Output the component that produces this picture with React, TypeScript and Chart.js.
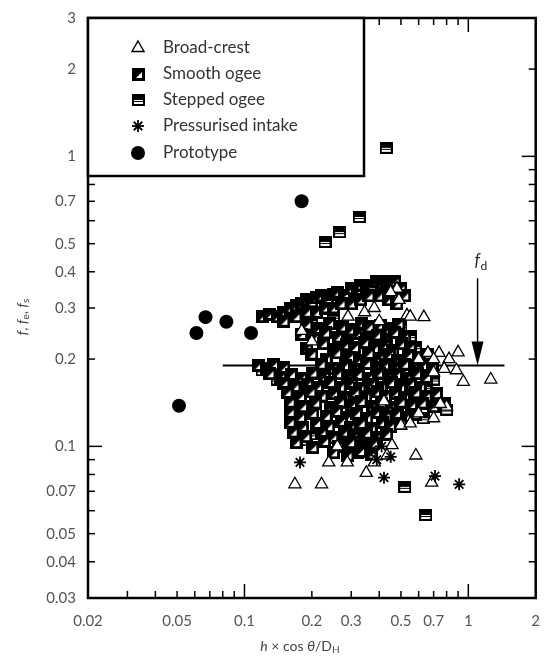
import React, { useEffect, useRef } from 'react';
import { Chart, registerables } from 'chart.js';
Chart.register(...registerables);

const X_MIN = 0.02, X_MAX = 2, Y_MIN = 0.03, Y_MAX = 3;
const xTickValues = [0.02, 0.05, 0.1, 0.2, 0.3, 0.5, 0.7, 1, 2];
const xTickLabels = ['0.02', '0.05', '0.1', '0.2', '0.3', '0.5', '0.7', '1', '2'];
const yTickValues = [0.03, 0.04, 0.05, 0.07, 0.1, 0.2, 0.3, 0.4, 0.5, 0.7, 1, 2, 3];
const yTickLabels = ['0.03', '0.04', '0.05', '0.07', '0.1', '0.2', '0.3', '0.4', '0.5', '0.7', '1', '2', '3'];
const xTickMarks = [0.03, 0.04, 0.05, 0.06, 0.07, 0.08, 0.09, 0.1, 0.2, 0.3, 0.4, 0.5, 0.6, 0.7, 0.8, 0.9, 1];
const yTickMarks = [0.04, 0.05, 0.06, 0.07, 0.08, 0.09, 0.1, 0.2, 0.3, 0.4, 0.5, 0.6, 0.7, 0.8, 0.9, 1, 2];
const decadeTicks = [0.1, 1];
const seriesNames = ['Broad-crest', 'Smooth ogee', 'Stepped ogee', 'Pressurised intake', 'Prototype'];

const fdValue = 0.19;
const fdLineX = [0.08, 1.45];
const fdArrowX = 1.1;
const fdArrowTop = 0.38;

const prototype: [number, number][] = [
  [0.051, 0.138], [0.061, 0.246], [0.067, 0.279], [0.083, 0.269], [0.107, 0.246], [0.18, 0.70],
];

const pressurised: [number, number][] = [
  [0.177, 0.088], [0.42, 0.078], [0.71, 0.079], [0.91, 0.074], [0.33, 0.105], [0.37, 0.097],
  [0.41, 0.1], [0.31, 0.113], [0.45, 0.092], [0.39, 0.09],
];

const broadCrest: [number, number][] = [
  [0.168, 0.074], [0.221, 0.074], [0.238, 0.088], [0.288, 0.088], [0.35, 0.081], [0.38, 0.088],
  [0.456, 0.101], [0.433, 0.093], [0.583, 0.093], [0.686, 0.075], [0.5, 0.118], [0.8, 0.137],
  [0.42, 0.143], [0.633, 0.279], [0.532, 0.283], [0.9, 0.211], [0.885, 0.183], [0.95, 0.167],
  [1.26, 0.17], [0.74, 0.21], [0.66, 0.21], [0.82, 0.2], [0.344, 0.29], [0.4, 0.27],
  [0.49, 0.32], [0.48, 0.35], [0.18, 0.25], [0.2, 0.23], [0.29, 0.28], [0.38, 0.3],
  [0.45, 0.34], [0.55, 0.28], [0.6, 0.2], [0.7, 0.2], [0.7, 0.18], [0.6, 0.13],
  [0.7, 0.125], [0.75, 0.14], [0.26, 0.1], [0.55, 0.12], [0.78, 0.185],
];

const smoothOgee: [number, number][] = [
  [0.12, 0.28], [0.13, 0.285], [0.14, 0.28], [0.15, 0.29], [0.16, 0.3], [0.17, 0.305], [0.18, 0.31],
  [0.19, 0.32], [0.2, 0.315], [0.21, 0.325], [0.22, 0.33], [0.235, 0.32], [0.25, 0.335], [0.26, 0.34],
  [0.28, 0.33], [0.3, 0.35], [0.32, 0.34], [0.33, 0.36], [0.35, 0.35], [0.37, 0.36], [0.39, 0.37],
  [0.41, 0.365], [0.43, 0.37], [0.45, 0.36], [0.47, 0.37], [0.5, 0.35], [0.52, 0.33],
  [0.15, 0.27], [0.17, 0.28], [0.19, 0.29], [0.21, 0.29], [0.23, 0.3], [0.25, 0.3], [0.27, 0.31],
  [0.3, 0.31], [0.33, 0.32], [0.36, 0.33], [0.4, 0.33], [0.44, 0.32], [0.48, 0.31],
  [0.19, 0.262], [0.215, 0.255], [0.24, 0.265], [0.275, 0.258], [0.3, 0.252], [0.335, 0.266],
  [0.36, 0.258], [0.405, 0.262], [0.44, 0.254], [0.49, 0.264],
  [0.18, 0.243], [0.205, 0.236], [0.23, 0.246], [0.262, 0.238], [0.29, 0.232], [0.325, 0.245],
  [0.35, 0.236], [0.392, 0.242], [0.43, 0.234], [0.47, 0.247], [0.52, 0.238],
  [0.19, 0.218], [0.225, 0.226], [0.25, 0.215], [0.285, 0.224], [0.31, 0.219], [0.345, 0.228],
  [0.38, 0.217], [0.425, 0.223], [0.46, 0.214], [0.505, 0.226], [0.55, 0.219],
  [0.2, 0.208], [0.232, 0.2], [0.258, 0.21], [0.295, 0.203], [0.325, 0.198], [0.36, 0.209],
  [0.4, 0.201], [0.445, 0.207], [0.485, 0.198], [0.54, 0.206], [0.6, 0.2], [0.66, 0.208],
  [0.115, 0.19], [0.125, 0.186], [0.135, 0.191], [0.15, 0.187], [0.22, 0.192], [0.248, 0.186],
  [0.282, 0.19], [0.31, 0.184], [0.352, 0.193], [0.39, 0.187], [0.428, 0.191], [0.47, 0.185],
  [0.52, 0.192], [0.572, 0.186], [0.63, 0.19], [0.69, 0.187],
  [0.13, 0.178], [0.145, 0.173], [0.162, 0.177], [0.18, 0.172], [0.202, 0.179], [0.228, 0.174],
  [0.262, 0.178], [0.288, 0.171], [0.322, 0.177], [0.358, 0.172], [0.402, 0.179], [0.438, 0.173],
  [0.482, 0.177], [0.528, 0.171], [0.59, 0.178], [0.65, 0.173],
  [0.15, 0.165], [0.168, 0.16], [0.192, 0.164], [0.212, 0.159], [0.242, 0.166], [0.268, 0.16],
  [0.302, 0.165], [0.328, 0.158], [0.372, 0.164], [0.408, 0.16], [0.452, 0.166], [0.498, 0.159],
  [0.552, 0.164], [0.61, 0.16],
  [0.155, 0.153], [0.178, 0.148], [0.198, 0.154], [0.222, 0.149], [0.252, 0.152], [0.278, 0.147],
  [0.312, 0.153], [0.348, 0.148], [0.392, 0.154], [0.428, 0.149], [0.472, 0.152], [0.518, 0.147],
  [0.582, 0.153], [0.648, 0.149], [0.72, 0.152],
  [0.16, 0.142], [0.182, 0.137], [0.208, 0.141], [0.242, 0.136], [0.268, 0.142], [0.302, 0.138],
  [0.332, 0.143], [0.372, 0.137], [0.408, 0.141], [0.452, 0.136], [0.5, 0.142], [0.558, 0.138],
  [0.622, 0.141], [0.7, 0.137], [0.78, 0.14],
  [0.16, 0.131], [0.178, 0.126], [0.202, 0.13], [0.232, 0.127], [0.258, 0.132], [0.292, 0.126],
  [0.318, 0.13], [0.352, 0.125], [0.392, 0.131], [0.428, 0.127], [0.482, 0.13], [0.528, 0.126],
  [0.58, 0.129],
  [0.16, 0.121], [0.182, 0.116], [0.21, 0.12], [0.238, 0.117], [0.272, 0.122], [0.298, 0.116],
  [0.332, 0.12], [0.368, 0.115], [0.412, 0.121], [0.448, 0.117], [0.5, 0.12],
  [0.165, 0.112], [0.188, 0.108], [0.222, 0.111], [0.248, 0.107], [0.282, 0.112], [0.308, 0.108],
  [0.352, 0.111], [0.388, 0.107], [0.432, 0.11],
  [0.17, 0.103], [0.202, 0.099], [0.228, 0.104], [0.262, 0.1], [0.298, 0.103], [0.342, 0.099],
  [0.378, 0.102],
  [0.25, 0.095], [0.29, 0.093], [0.33, 0.096], [0.37, 0.094],
];

const steppedOgee: [number, number][] = [
  [0.43, 1.07], [0.326, 0.618], [0.266, 0.548], [0.229, 0.507], [0.52, 0.0725], [0.645, 0.058],
  [0.115, 0.19], [0.12, 0.183], [0.13, 0.178], [0.14, 0.17], [0.15, 0.165], [0.165, 0.16],
  [0.17, 0.15], [0.175, 0.14], [0.17, 0.13], [0.17, 0.12], [0.175, 0.11], [0.19, 0.105],
  [0.21, 0.11], [0.28, 0.11], [0.3, 0.1], [0.32, 0.095], [0.35, 0.1], [0.38, 0.105],
  [0.6, 0.155], [0.65, 0.16], [0.7, 0.17], [0.55, 0.185], [0.6, 0.19], [0.25, 0.28],
  [0.2, 0.27], [0.5, 0.26], [0.55, 0.24], [0.58, 0.22], [0.62, 0.145], [0.66, 0.14],
  [0.8, 0.134], [0.63, 0.125],
];

const FONT = 'Lato, "Open Sans", sans-serif';

function makeSmoothIcon(): HTMLCanvasElement {
  const s = 13;
  const c = document.createElement('canvas');
  c.width = s; c.height = s;
  const g = c.getContext('2d')!;
  g.fillStyle = '#000';
  g.fillRect(0, 0, s, s);
  g.fillStyle = '#fff';
  g.beginPath();
  g.moveTo(s - 3, 4);
  g.lineTo(s - 3, s - 3);
  g.lineTo(4, s - 3);
  g.closePath();
  g.fill();
  return c;
}

function makeSteppedIcon(): HTMLCanvasElement {
  const w = 13, h = 12;
  const c = document.createElement('canvas');
  c.width = w; c.height = h;
  const g = c.getContext('2d')!;
  g.fillStyle = '#fff';
  g.fillRect(0, 0, w, h);
  g.fillStyle = '#000';
  g.fillRect(0, 0, w, 6);
  g.fillRect(0, 7, w, 1);
  g.fillRect(0, 0, 2, h);
  g.fillRect(w - 2, 0, 2, h);
  g.fillRect(0, h - 2, w, 2);
  return c;
}

const toPts = (arr: [number, number][]) => arr.map(([x, y]) => ({ x, y }));

export default function App() {
  const ref = useRef<HTMLCanvasElement>(null);
  useEffect(() => {
    document.body.style.margin = '0';
    const smoothIcon = makeSmoothIcon();
    const steppedIcon = makeSteppedIcon();

    const drawMarker = (ctx: CanvasRenderingContext2D, kind: number, x: number, y: number) => {
      ctx.save();
      ctx.strokeStyle = '#000';
      ctx.fillStyle = '#000';
      if (kind === 0) {
        const r = 7;
        ctx.fillStyle = '#fff';
        ctx.lineWidth = 1.4;
        ctx.beginPath();
        ctx.moveTo(x, y - r);
        ctx.lineTo(x + r * 0.866, y + r * 0.5);
        ctx.lineTo(x - r * 0.866, y + r * 0.5);
        ctx.closePath();
        ctx.fill();
        ctx.stroke();
      } else if (kind === 1) {
        ctx.drawImage(smoothIcon, Math.round(x - 6.5), Math.round(y - 6.5));
      } else if (kind === 2) {
        ctx.drawImage(steppedIcon, Math.round(x - 6.5), Math.round(y - 6));
      } else if (kind === 3) {
        ctx.lineWidth = 1.8;
        const r = 6;
        for (let i = 0; i < 4; i++) {
          const a = (i * Math.PI) / 4;
          ctx.beginPath();
          ctx.moveTo(x - Math.cos(a) * r, y - Math.sin(a) * r);
          ctx.lineTo(x + Math.cos(a) * r, y + Math.sin(a) * r);
          ctx.stroke();
        }
      } else {
        ctx.beginPath();
        ctx.arc(x, y, 7, 0, Math.PI * 2);
        ctx.fill();
      }
      ctx.restore();
    };

    const drawSegments = (ctx: CanvasRenderingContext2D, segs: { t: string; italic?: boolean; sub?: boolean }[], cx: number, cy: number) => {
      const fontFor = (s: { italic?: boolean; sub?: boolean }) =>
        `${s.italic ? 'italic ' : ''}${s.sub ? 10 : 14}px ${FONT}`;
      let total = 0;
      segs.forEach((s) => { ctx.font = fontFor(s); total += ctx.measureText(s.t).width; });
      let x = cx - total / 2;
      segs.forEach((s) => {
        ctx.font = fontFor(s);
        ctx.fillText(s.t, x, cy + (s.sub ? 4 : 0));
        x += ctx.measureText(s.t).width;
      });
    };

    const overlay = {
      id: 'overlay',
      afterDraw(chart: any) {
        const { ctx, chartArea: a, scales } = chart;
        const xs = scales.x, ys = scales.y;
        ctx.save();
        ctx.strokeStyle = '#000';
        ctx.lineWidth = 1.5;
        const seg = (x1: number, y1: number, x2: number, y2: number) => {
          ctx.beginPath(); ctx.moveTo(x1, y1); ctx.lineTo(x2, y2); ctx.stroke();
        };
        xTickMarks.forEach((v) => {
          const px = xs.getPixelForValue(v);
          const len = decadeTicks.includes(v) ? 14 : 7;
          seg(px, a.bottom, px, a.bottom - len);
          seg(px, a.top, px, a.top + len);
        });
        yTickMarks.forEach((v) => {
          const py = ys.getPixelForValue(v);
          const len = decadeTicks.includes(v) ? 14 : 7;
          seg(a.left, py, a.left + len, py);
          seg(a.right, py, a.right - len, py);
        });
        ctx.lineWidth = 2.5;
        ctx.strokeRect(a.left, a.top, a.right - a.left, a.bottom - a.top);

        // f_d arrow
        const ax = xs.getPixelForValue(fdArrowX);
        const aTop = ys.getPixelForValue(fdArrowTop);
        const aTip = ys.getPixelForValue(fdValue);
        ctx.lineWidth = 1.5;
        seg(ax, aTop, ax, aTip - 20);
        ctx.fillStyle = '#000';
        ctx.beginPath();
        ctx.moveTo(ax, aTip);
        ctx.lineTo(ax - 6, aTip - 24);
        ctx.lineTo(ax + 6, aTip - 24);
        ctx.closePath();
        ctx.fill();
        ctx.fillStyle = '#222';
        ctx.textBaseline = 'alphabetic';
        ctx.textAlign = 'left';
        ctx.font = `italic 17px ${FONT}`;
        ctx.fillText('f', ax - 3, aTop - 12);
        ctx.font = `12px ${FONT}`;
        ctx.fillText('d', ax + 3, aTop - 8);

        // legend box
        const lx = a.left, ly = a.top, lw = 276, lh = 158;
        ctx.fillStyle = '#fff';
        ctx.fillRect(lx, ly, lw, lh);
        ctx.lineWidth = 2.5;
        ctx.strokeStyle = '#000';
        ctx.strokeRect(lx, ly, lw, lh);
        const rowY = [30, 56, 82, 108, 135];
        seriesNames.forEach((name, i) => {
          drawMarker(ctx, i, lx + 50, ly + rowY[i]);
          ctx.fillStyle = '#333';
          ctx.font = `17px ${FONT}`;
          ctx.textBaseline = 'middle';
          ctx.textAlign = 'left';
          ctx.fillText(name, lx + 75, ly + rowY[i]);
        });

        // axis titles
        ctx.fillStyle = '#444';
        ctx.textBaseline = 'middle';
        ctx.textAlign = 'left';
        drawSegments(ctx, [
          { t: 'h', italic: true }, { t: ' × cos ' }, { t: 'θ', italic: true }, { t: '/D' }, { t: 'H', sub: true },
        ], 300, 646);
        ctx.save();
        ctx.translate(22, 317);
        ctx.rotate(-Math.PI / 2);
        drawSegments(ctx, [
          { t: 'f', italic: true }, { t: ', ' }, { t: 'f', italic: true }, { t: 'e', sub: true },
          { t: ', ' }, { t: 'f', italic: true }, { t: 's', sub: true },
        ], 0, 0);
        ctx.restore();
        ctx.restore();
      },
    };

    const chart = new Chart(ref.current!, {
      type: 'scatter',
      data: {
        datasets: [
          { label: seriesNames[4], data: toPts(prototype), pointStyle: 'circle', pointRadius: 7, backgroundColor: '#000', borderColor: '#000', borderWidth: 0 },
          { label: seriesNames[3], data: toPts(pressurised), pointStyle: 'star', pointRadius: 6, borderColor: '#000', backgroundColor: '#000', borderWidth: 1.8 },
          { label: seriesNames[0], data: toPts(broadCrest), pointStyle: 'triangle', pointRadius: 7, backgroundColor: '#fff', borderColor: '#000', borderWidth: 1.3 },
          { label: seriesNames[1], data: toPts(smoothOgee), pointStyle: smoothIcon as any, pointRadius: 6 },
          { label: seriesNames[2], data: toPts(steppedOgee), pointStyle: steppedIcon as any, pointRadius: 6 },
          {
            type: 'line' as any, label: 'fd', data: fdLineX.map((x) => ({ x, y: fdValue })),
            borderColor: '#000', borderWidth: 2, pointRadius: 0, showLine: true, fill: false,
          },
        ],
      },
      options: {
        animation: false,
        responsive: false,
        maintainAspectRatio: false,
        events: [],
        layout: { padding: { top: 18, right: 3, left: 0, bottom: 0 } },
        plugins: { legend: { display: false }, tooltip: { enabled: false } },
        scales: {
          x: {
            type: 'logarithmic', min: X_MIN, max: X_MAX, position: 'bottom',
            grid: { display: false, drawTicks: true, tickLength: 14 }, border: { display: false },
            ticks: {
              autoSkip: false, maxRotation: 0, padding: 0, color: '#555',
              font: { family: FONT, size: 15 },
              callback: (_v: any, i: number) => xTickLabels[i],
            },
            afterBuildTicks: (s: any) => { s.ticks = xTickValues.map((value) => ({ value })); },
            afterFit: (s: any) => { s.height = 59; },
          },
          y: {
            type: 'logarithmic', min: Y_MIN, max: Y_MAX,
            grid: { display: false, drawTicks: true, tickLength: 12 }, border: { display: false },
            ticks: {
              autoSkip: false, padding: 0, color: '#555',
              font: { family: FONT, size: 15 },
              callback: (_v: any, i: number) => yTickLabels[i],
            },
            afterBuildTicks: (s: any) => { s.ticks = yTickValues.map((value) => ({ value })); },
            afterFit: (s: any) => { s.width = 88; },
          },
        },
      } as any,
      plugins: [overlay],
    });
    return () => chart.destroy();
  }, []);
  return <canvas ref={ref} width={544} height={657} style={{ display: 'block' }} />;
}
